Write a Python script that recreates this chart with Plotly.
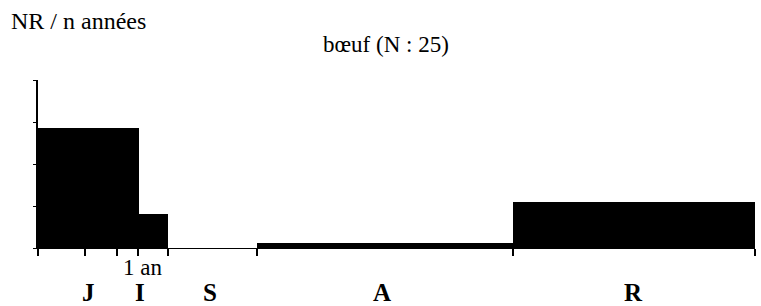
import plotly.graph_objects as go

# Age-class boundaries (schematic age axis, years) and values
edges = [0, 1.01, 1.30, 2.19, 4.75, 7.17]
classes = ["J", "I", "S", "A", "R"]
values = [2.85, 0.82, 0.0, 0.13, 1.1]
tick_positions = [0, 0.47, 0.79, 1.0, 1.30, 2.19, 4.75, 7.17]
y_ticks = [0, 1, 2, 3, 4]

mids = [(a + b) / 2 for a, b in zip(edges[:-1], edges[1:])]
widths = [b - a for a, b in zip(edges[:-1], edges[1:])]

serif = "Liberation Serif, serif"

fig = go.Figure()
fig.add_trace(go.Bar(
    x=mids, y=values, width=widths,
    marker=dict(color="black", line=dict(color="black", width=0)),
    hoverinfo="skip",
))

fig.update_layout(
    width=761, height=306,
    margin=dict(l=38, r=6, t=80, b=58, autoexpand=False),
    plot_bgcolor="white", paper_bgcolor="white",
    showlegend=False,
    bargap=0,
    font=dict(family=serif, color="black"),
)
fig.update_xaxes(
    range=[0, 7.17], showgrid=False, zeroline=False, automargin=False,
    showline=True, linecolor="black", linewidth=1,
    tickmode="array", tickvals=tick_positions, ticktext=[""] * len(tick_positions),
    ticks="outside", ticklen=7, tickcolor="black", tickwidth=1.5,
)
fig.update_yaxes(
    range=[0, 4], showgrid=False, zeroline=False, automargin=False,
    showline=True, linecolor="black", linewidth=1.5,
    tickmode="array", tickvals=y_ticks, ticktext=[""] * len(y_ticks),
    ticks="outside", ticklen=3, tickcolor="black", tickwidth=1,
)

# class labels
label_x = [0.5, 1.02, 1.72, 3.44, 5.95]
for lab, xv in zip(classes, label_x):
    fig.add_annotation(x=xv, xref="x", y=-0.262, yref="paper", yanchor="middle",
                       text="<b>" + lab + "</b>", showarrow=False,
                       font=dict(family=serif, size=25, color="black"))
fig.add_annotation(x=1.04, xref="x", y=-0.118, yref="paper", yanchor="middle",
                   text="1 an", showarrow=False,
                   font=dict(family=serif, size=23, color="black"))
fig.add_annotation(x=-0.04, xref="paper", xanchor="left", y=1.35, yref="paper",
                   yanchor="middle", text="NR / n années", showarrow=False,
                   font=dict(family=serif, size=24, color="black"))
fig.add_annotation(x=0.486, xref="paper", xanchor="center", y=1.21, yref="paper",
                   yanchor="middle", text="bœuf (N : 25)", showarrow=False,
                   font=dict(family=serif, size=23, color="black"))
fig.write_html("out.html", config={"displayModeBar": False},
               post_script="document.body.style.margin='0';")
